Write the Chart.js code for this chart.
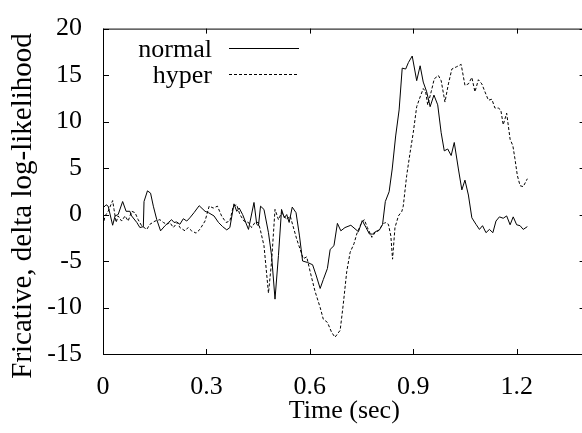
<!DOCTYPE html>
<html>
<head>
<meta charset="utf-8">
<script src="https://cdn.jsdelivr.net/npm/chart.js@4/dist/chart.umd.min.js"></script>
<style>
  html, body { margin: 0; padding: 0; background: #fff; overflow: hidden; }
  #wrap { width: 590px; height: 433px; }
</style>
</head>
<body>
<div id="wrap"><canvas id="c"></canvas></div>
<script>
// Valeurs (temps en s, delta log-vraisemblance)
const normalTime = [
  0.000, 0.009, 0.015, 0.028, 0.035, 0.044, 0.057, 0.067, 0.078, 0.083,
  0.098, 0.107, 0.117, 0.119, 0.129, 0.138, 0.146, 0.156, 0.167, 0.180,
  0.190, 0.199, 0.206, 0.214, 0.223, 0.233, 0.243, 0.252, 0.264, 0.279,
  0.296, 0.306, 0.322, 0.335, 0.347, 0.359, 0.368, 0.380, 0.388, 0.395,
  0.405, 0.422, 0.438, 0.446, 0.451, 0.457, 0.467, 0.480, 0.489, 0.499,
  0.509, 0.518, 0.526, 0.533, 0.540, 0.549, 0.560, 0.570, 0.579, 0.593,
  0.608, 0.618, 0.630, 0.639, 0.651, 0.659, 0.670, 0.680, 0.690, 0.702,
  0.719, 0.741, 0.752, 0.763, 0.773, 0.782, 0.790, 0.802, 0.811, 0.819,
  0.830, 0.839, 0.849, 0.859, 0.868, 0.878, 0.886, 0.897, 0.910, 0.920,
  0.929, 0.939, 0.949, 0.960, 0.971, 0.981, 0.990, 1.000, 1.010, 1.019,
  1.031, 1.041, 1.050, 1.060, 1.070, 1.082, 1.092, 1.101, 1.111, 1.121,
  1.131, 1.140, 1.150, 1.161, 1.171, 1.181, 1.190, 1.200, 1.210, 1.219,
  1.231
];
const normalValue = [
  0.7, 1.05, 0.9, -1.15, -0.15, 0, 1.4, 0.35, 0.35, -0.15,
  -0.85, -1.4, -1.3, 1.4, 2.55, 2.3, 0.9, -0.55, -1.75, -1.2,
  -0.85, -0.55, -0.85, -0.8, -1.05, -0.45, -0.7, -0.35, 0.2, 0.95,
  0.35, 0.2, -0.15, -0.85, -1.3, -1.65, -1.4, 1.15, 0.35, 0.7,
  0, -1.6, 1.3, -1.05, -1.2, 0.9, 0.55, -1.95, -4.4, -9.1,
  -4.4, 0.55, -0.35, 0, -0.85, 0.8, 0.2, -2.3, -5, -5.15,
  -5.4, -6.5, -7.95, -7, -5.8, -3.75, -3.35, -0.95, -1.75, -1.4,
  -1.15, -1.85, -0.65, -1.4, -2.1, -2.1, -1.85, -1.65, -1.05, 1.4,
  2.45, 4.9, 8.45, 11.25, 15.75, 15.65, 16.35, 17.05, 14.4, 16,
  14.25, 13.2, 11.6, 12.85, 11.8, 8.8, 6.85, 7.05, 6.35, 7.75,
  4.9, 2.65, 3.7, 2.1, -0.35, -1.05, -1.6, -1.2, -1.95, -1.6,
  -1.95, -0.7, -0.25, -0.4, -0.15, -1.1, -0.25, -1.1, -1.2, -1.6,
  -1.3
];
const hyperTime = [
  0.000, 0.006, 0.015, 0.028, 0.032, 0.038, 0.044, 0.054, 0.064, 0.073,
  0.083, 0.093, 0.102, 0.112, 0.127, 0.136, 0.151, 0.165, 0.175, 0.185,
  0.194, 0.204, 0.216, 0.223, 0.238, 0.247, 0.257, 0.270, 0.281, 0.296,
  0.308, 0.320, 0.332, 0.344, 0.357, 0.368, 0.378, 0.388, 0.397, 0.409,
  0.422, 0.431, 0.441, 0.451, 0.457, 0.467, 0.480, 0.489, 0.499, 0.509,
  0.518, 0.533, 0.543, 0.562, 0.581, 0.591, 0.601, 0.615, 0.630, 0.639,
  0.651, 0.663, 0.673, 0.688, 0.697, 0.707, 0.717, 0.728, 0.736, 0.748,
  0.758, 0.767, 0.780, 0.789, 0.799, 0.809, 0.818, 0.828, 0.835, 0.840,
  0.847, 0.857, 0.867, 0.871, 0.881, 0.891, 0.900, 0.910, 0.920, 0.929,
  0.936, 0.942, 0.952, 0.961, 0.973, 0.981, 0.992, 1.002, 1.012, 1.026,
  1.039, 1.050, 1.060, 1.070, 1.079, 1.089, 1.099, 1.108, 1.118, 1.128,
  1.137, 1.147, 1.154, 1.161, 1.171, 1.181, 1.189, 1.195, 1.202, 1.210,
  1.219, 1.231
];
const hyperValue = [
  -1.2, -0.15, 0.35, 1.5, 0.55, -0.85, -0.15, -0.7, -0.15, -0.7,
  0.35, 0.2, -0.55, -1.2, -1.6, -1.05, -0.7, -0.55, -0.85, -1.05,
  -0.85, -1.4, -0.85, -1.4, -1.75, -1.4, -1.75, -2, -1.6, -0.7,
  0.9, 0.7, 0.9, -0.15, -0.85, -0.7, 0.9, 1.05, 0, -0.7,
  -0.85, -1.4, -0.85, -0.85, -1.75, -3.35, -8.45, -5.1, 0.55, -0.55,
  0.2, -0.55, -0.15, -2.65, -4.75, -4.55, -6.15, -8.25, -10, -11.25,
  -11.6, -12.65, -13.2, -12.45, -9.65, -6.15, -4.05, -3.15, -2.1, -1.05,
  -0.55, -1.4, -2.45, -1.95, -1.75, -1.2, -0.85, -1.05, -2.3, -4.8,
  -1.4, -0.15, 0.35, 0.9, 4.2, 6.7, 8.8, 11.6, 12.65, 13.55,
  13.2, 11.8, 13.2, 14.6, 14.95, 14.4, 12.1, 14.05, 15.65, 15.9,
  16.15, 13.9, 14.05, 14.75, 13.2, 14.5, 14.05, 13.2, 12.3, 12.4,
  11.45, 11.45, 11.25, 9.65, 10.9, 8.1, 7.4, 6, 4.2, 3.1,
  3, 3.85
];
const xTicks = [0, 0.3, 0.6, 0.9, 1.2];
const yTicks = [-15, -10, -5, 0, 5, 10, 15, 20];
const seriesLabels = ['normal', 'hyper'];
const yTitle = 'Fricative, delta log-likelihood';

const FONT = "'Liberation Serif', 'Times New Roman', serif";
const pts = (ts, vs) => ts.map((t, i) => ({ x: t, y: vs[i] }));

// cadre, graduations vers l'intérieur, titre Y et légende façon gnuplot
const cadre = {
  id: 'cadre',
  afterDraw(chart) {
    const { ctx, chartArea: a, scales: { x, y } } = chart;
    ctx.save();
    ctx.strokeStyle = '#000';
    ctx.lineWidth = 1;
    ctx.setLineDash([]);
    ctx.strokeRect(a.left + 0.5, a.top + 0.5, a.right - a.left, a.bottom - a.top);
    ctx.beginPath();
    x.ticks.forEach(t => {
      const p = Math.round(x.getPixelForValue(t.value)) + 0.5;
      ctx.moveTo(p, a.bottom); ctx.lineTo(p, a.bottom - 5);
      ctx.moveTo(p, a.top); ctx.lineTo(p, a.top + 5);
    });
    y.ticks.forEach(t => {
      const p = Math.round(y.getPixelForValue(t.value)) + 0.5;
      ctx.moveTo(a.left, p); ctx.lineTo(a.left + 6, p);
      ctx.moveTo(a.right, p); ctx.lineTo(a.right - 6, p);
    });
    ctx.stroke();

    ctx.fillStyle = '#000';
    // titre de l'axe Y
    ctx.save();
    ctx.translate(23, 206);
    ctx.rotate(-Math.PI / 2);
    ctx.font = '29px ' + FONT;
    ctx.textAlign = 'center';
    ctx.textBaseline = 'middle';
    ctx.fillText(yTitle, 0, 0);
    ctx.restore();

    ctx.font = '26px ' + FONT;
    ctx.textAlign = 'right';
    ctx.textBaseline = 'alphabetic';
    chart.data.datasets.forEach((ds, i) => {
      const ly = a.top + 19 + i * 26.6;
      ctx.fillText(ds.label, a.left + 109, ly + 9);
      ctx.beginPath();
      ctx.setLineDash(ds.borderDash || []);
      ctx.moveTo(a.left + 126, Math.round(ly) + 0.5);
      ctx.lineTo(a.left + 196, Math.round(ly) + 0.5);
      ctx.stroke();
    });
    ctx.restore();
  }
};

new Chart(document.getElementById('c'), {
  type: 'line',
  data: {
    datasets: [
      { label: seriesLabels[0], data: pts(normalTime, normalValue), borderColor: '#000', borderWidth: 1, pointRadius: 0, tension: 0 },
      { label: seriesLabels[1], data: pts(hyperTime, hyperValue), borderColor: '#000', borderWidth: 1, borderDash: [3, 2], pointRadius: 0, tension: 0 }
    ]
  },
  options: {
    responsive: true, maintainAspectRatio: false, animation: false, devicePixelRatio: 1,
    layout: { padding: { top: 22, right: 4.4, left: 0, bottom: 0 } },
    plugins: { legend: { display: false }, tooltip: { enabled: false } },
    scales: {
      x: {
        type: 'linear', min: 0, max: 1.4,
        grid: { display: false }, border: { display: false },
        afterBuildTicks: s => { s.ticks = xTicks.map(v => ({ value: v })); },
        afterFit: s => { s.height = 79; },
        ticks: { color: '#000', font: { family: FONT, size: 26 }, padding: 10, maxRotation: 0, callback: v => String(v) },
        title: { display: true, text: 'Time (sec)', color: '#000', font: { family: FONT, size: 26 }, padding: { top: 0, bottom: 6 } }
      },
      y: {
        min: -15, max: 20,
        grid: { display: false }, border: { display: false },
        afterBuildTicks: s => { s.ticks = yTicks.map(v => ({ value: v })); },
        afterFit: s => { s.width = 103; },
        ticks: { color: '#000', font: { family: FONT, size: 26 }, padding: 13, callback: v => String(v) }
      }
    }
  },
  plugins: [cadre]
});
</script>
</body>
</html>
